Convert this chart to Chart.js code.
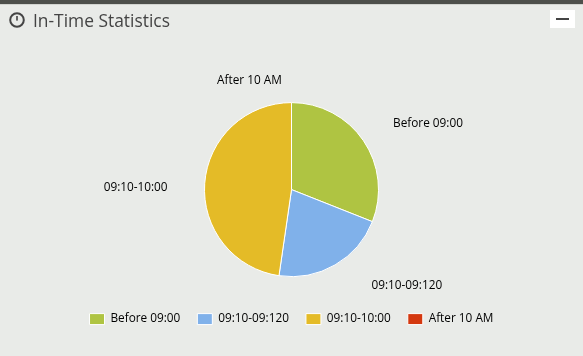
<!DOCTYPE html>
<html>
<head>
<meta charset="utf-8">
<title>In-Time Statistics</title>
<script src="https://cdn.jsdelivr.net/npm/chart.js@4"></script>
<style>
  html, body { margin: 0; padding: 0; background: #e9ebe8; overflow: hidden; }
  #wrap { position: relative; width: 583px; height: 356px; }
  #topbar { position: absolute; left: 0; top: 0; width: 583px; height: 4px; background: #4d4f4b; border-bottom: 1px solid #d2d4d0; }
  #icon { position: absolute; left: 9px; top: 12px; }
  #title { position: absolute; left: 33px; top: 8px; font: 17.4px "Open Sans", sans-serif; line-height: 24px; color: #444; }
  #btn { position: absolute; left: 550px; top: 10px; width: 25px; height: 18px; background: #fff; }
  #btn i { position: absolute; left: 6px; top: 8px; width: 13px; height: 2px; background: #444; }
  #myChart { position: absolute; left: 0; top: 0; }
</style>
</head>
<body>
<div id="wrap">
  <canvas id="myChart" width="583" height="356"></canvas>
  <div id="topbar"></div>
  <svg id="icon" width="16" height="16" viewBox="0 0 16 16">
    <circle cx="8" cy="8" r="6.8" fill="none" stroke="#444" stroke-width="2"/>
    <rect x="7.2" y="4" width="1.6" height="4.6" fill="#444"/>
  </svg>
  <div id="title">In-Time Statistics</div>
  <div id="btn"><i></i></div>
</div>
<script>
const categories = ['Before 09:00', '09:10-09:120', '09:10-10:00', 'After 10 AM'];
const shares = [31, 21.3, 47.7, 0];
const colours = ['#afc442', '#80b1ea', '#e4bb27', '#d4380f'];

// label offsets from each slice's centre point, the original chart's labels are not radial
const labelOffsets = [[100.5, -42], [93.5, 58], [-112.5, 1], [-42, -65.5]];

const sliceLabels = {
  id: 'sliceLabels',
  afterDatasetsDraw(chart) {
    const ctx = chart.ctx;
    const arcs = chart.getDatasetMeta(0).data;
    ctx.save();
    ctx.font = '11.8px "Open Sans", sans-serif';
    ctx.fillStyle = '#000';
    ctx.textAlign = 'center';
    ctx.textBaseline = 'middle';
    arcs.forEach((arc, i) => {
      const c = arc.getCenterPoint();
      ctx.fillText(categories[i], c.x + labelOffsets[i][0], c.y + labelOffsets[i][1]);
    });
    ctx.restore();
  },
};

window.onload = function() {
  const ctx = document.getElementById('myChart').getContext('2d');
  new Chart(ctx, {
    type: 'pie',
    data: {
      labels: categories,
      datasets: [
        {
          data: shares,
          backgroundColor: colours,
          borderColor: '#ffffff',
          borderWidth: 1,
          radius: 87,
        },
      ],
    },
    options: {
      responsive: false,
      animation: false,
      layout: { padding: { top: 83, bottom: 21 } },
      plugins: {
        tooltip: { enabled: false },
        legend: {
          position: 'bottom',
          labels: {
            boxWidth: 15,
            boxHeight: 11,
            padding: 17,
            color: '#000',
            font: { family: '"Open Sans", sans-serif', size: 11.8 },
          },
        },
      },
    },
    plugins: [sliceLabels],
  });
};
</script>
</body>
</html>
